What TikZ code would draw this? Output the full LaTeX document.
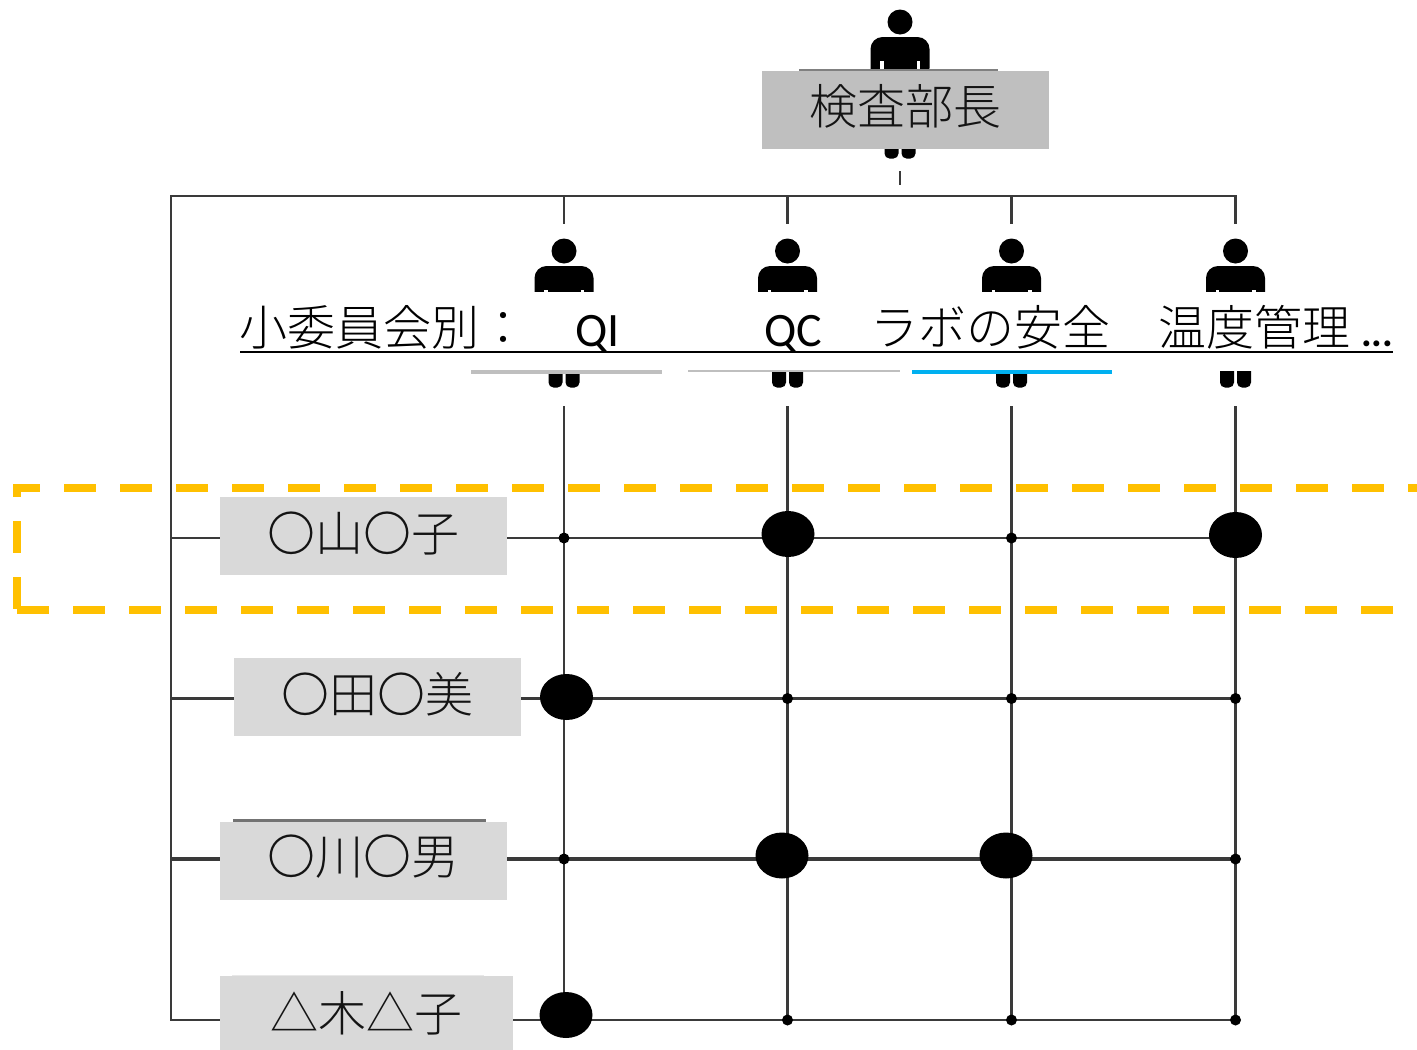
\documentclass[tikz,border=0pt]{standalone}
\usepackage{fontspec}
\setmainfont{Carlito}
\newfontfamily\cjk{Noto Sans CJK JP Light}
\definecolor{linegrey}{HTML}{3A3A3A}
\definecolor{boxdark}{HTML}{BFBFBF}
\definecolor{boxlight}{HTML}{D9D9D9}
\definecolor{dashorange}{HTML}{FFC000}
\definecolor{labcyan}{HTML}{00B0F0}
\tikzset{
  wire/.style={draw=linegrey,line width=2.8pt},
  namebox/.style={fill=boxlight,inner sep=0pt,font=\cjk\fontsize{48}{48}\selectfont,text=black!92},
  headbox/.style={fill=boxdark,inner sep=0pt,font=\cjk\fontsize{48}{48}\selectfont,text=black!92},
  htext/.style={inner sep=0pt,anchor=base west,font=\cjk\fontsize{48}{48}\selectfont},
  ltext/.style={inner sep=0pt,anchor=base west,font=\fontsize{48}{48}\selectfont},
  dsh/.style={draw=dashorange,line width=8pt,dash pattern=on 32pt off 24pt},
}
\newcommand{\personfig}[2]{%
  \begin{scope}[shift={(#1,#2)}]
    \fill[black] (0,0) circle (12.5);
    \fill[black,rounded corners=12pt] (-29.5,58) -- (-29.5,15) -- (29.5,15) -- (29.5,58) -- cycle;
    \fill[white] (-20,39) rectangle (-16.5,58);
    \fill[white] (16.5,39) rectangle (20,58);
    \fill[black] (-16.5,35) rectangle (16.5,58);
    \fill[black,rounded corners=5pt] (-15.5,50) -- (-15.5,136.5) -- (-1.5,136.5) -- (-1.5,50) -- cycle;
    \fill[black,rounded corners=5pt] (1.5,50) -- (1.5,136.5) -- (15.5,136.5) -- (15.5,50) -- cycle;
  \end{scope}}
\newcommand{\dotat}[3]{\node[circle,fill=black,inner sep=0pt,minimum size=11pt] (#1) at (#2,#3) {};}
\newcommand{\bigat}[3]{\fill[black] (#2,#3) ellipse (26.5 and 23); \coordinate (#1) at (#2,#3);}
\begin{document}
\begin{tikzpicture}[x=1pt,y=-1pt]
\useasboundingbox (0,0) rectangle (1417,1050);
\clip (0,0) rectangle (1417,1050);
% people
\personfig{900}{22}
\personfig{564}{251}
\personfig{787.5}{251}
\personfig{1011.5}{251}
\personfig{1235.5}{251}
\foreach \c in {564,787.5,1011.5,1235.5}{\fill[white] (\c-33,292) rectangle (\c+33,371);}
% coordinates
\coordinate (tick1) at (900,171); \coordinate (tick2) at (900,185);
\coordinate (busL) at (171,196); \coordinate (busR) at (1235.5,196);
\foreach \n/\c in {a/564,b/787.5,c/1011.5,d/1235.5}{
  \coordinate (\n0) at (\c,196); \coordinate (\n1) at (\c,224); \coordinate (\n2) at (\c,406); \coordinate (\n3) at (\c,1020);}
\coordinate (r1) at (171,538); \coordinate (r2) at (171,698.5); \coordinate (r3) at (171,859); \coordinate (r4) at (171,1020);
\coordinate (e1) at (1235.5,538); \coordinate (e2) at (1235.5,698.5); \coordinate (e3) at (1235.5,859); \coordinate (e4) at (1235.5,1020);
% wires
\draw[wire,line width=2.4pt] (tick1) -- (tick2);
\draw[wire,line cap=rect] (busL) -- (busR);
\draw[wire,line cap=rect] (busL) -- (r4);
\foreach \n in {a,b,c,d}{\draw[wire] (\n0) -- (\n1); \draw[wire] (\n2) -- (\n3);}
\draw[wire] (r1) -- (e1);
\draw[wire] (r2) -- (e2);
\draw[wire,line width=3.4pt] (r3) -- (e3);
\draw[wire,line cap=rect] (r4) -- (e4);
% thin lines behind boxes
\draw[draw=gray,line width=2pt] (799,70) -- (998,70);
\draw[draw=gray!90!black,line width=3pt] (233,820) -- (486,820);
\draw[draw=boxlight!60,line width=1pt] (232,975.5) -- (484,975.5);
% boxes
\node[headbox,minimum width=287pt,minimum height=78pt] (head) at (905.5,110) {};
\node[font=\cjk\fontsize{48}{48}\selectfont,text=black!92,inner sep=0pt] (headt) at (905.5,106) {検査部長};
\node[namebox,minimum width=287pt,minimum height=78pt] (n1) at (363.5,536) {};
\node[namebox,minimum width=287pt,minimum height=78pt] (n2) at (377.5,697) {};
\node[namebox,minimum width=287pt,minimum height=78pt] (n3) at (363.5,861) {};
\node[namebox,minimum width=293pt,minimum height=74pt] (n4) at (366.5,1013) {};
\node[namebox,fill=none] (t1) at (363.5,533) {〇山〇子};
\node[namebox,fill=none] (t2) at (377.5,694) {〇田〇美};
\node[namebox,fill=none] (t3) at (363,857) {〇川〇男};
\node[namebox,fill=none] (t4) at (366,1013) {△木△子};
% dots
\dotat{s11}{564}{538} \dotat{s13}{1011.5}{538}
\dotat{s22}{787.5}{698.5} \dotat{s23}{1011.5}{698.5} \dotat{s24}{1235.5}{698.5}
\dotat{s31}{564}{859} \dotat{s34}{1235.5}{859}
\dotat{s42}{787.5}{1020} \dotat{s43}{1011.5}{1020} \dotat{s44}{1235.5}{1020}
\bigat{b12}{788}{534} \bigat{b14}{1235.5}{535}
\bigat{b21}{566.5}{697}
\bigat{b32}{782}{855.5} \bigat{b33}{1006}{855.5}
\bigat{b41}{566}{1015}
% heading strips
\draw[draw=boxdark,line width=4pt] (471,372) -- (662,372);
\draw[draw=boxdark,line width=2pt] (688,371) -- (900,371);
\draw[draw=labcyan,line width=3.5pt] (912,372) -- (1112,372);
% heading text
\node[htext] (h0) at (239,345) {小委員会別：};
\node[ltext] (h1) at (575,346) {QI};
\node[ltext] (h2) at (764,346) {QC};
\node[htext] (h3) at (870,345) {ラボの安全};
\node[htext] (h4) at (1158,345) {温度管理};
\node[ltext,font=\bfseries\fontsize{40}{48}\selectfont] (h5) at (1361,346) {...};
\coordinate (ulL) at (240,352); \coordinate (ulR) at (1393,352);
\draw[black,line width=2.6pt] (ulL) -- (ulR);
% dashed frame
\coordinate (fa) at (13,488); \coordinate (fb) at (1417,488);
\coordinate (fc) at (17,521); \coordinate (fd) at (17,612);
\coordinate (fe) at (17,610); \coordinate (ff) at (1393,610);
\draw[dsh,dash phase=5pt] (fa) -- (fb);
\draw[dsh] (fc) -- (fd);
\draw[dsh] (fe) -- (ff);
\fill[dashorange] (13,484) rectangle (21,497);
\end{tikzpicture}
\end{document}
